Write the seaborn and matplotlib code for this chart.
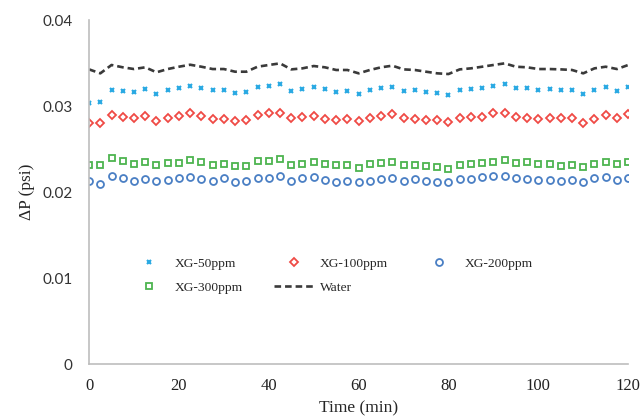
import matplotlib
matplotlib.use("Agg")
import matplotlib.pyplot as plt
import seaborn as sns

# 時間 (min)
time_min = [0, 2.5, 5, 7.5, 10, 12.5, 15, 17.5, 20, 22.5, 25, 27.5, 30, 32.5, 35, 37.5,
            40, 42.5, 45, 47.5, 50, 52.5, 55, 57.5, 60, 62.5, 65, 67.5, 70, 72.5, 75, 77.5,
            80, 82.5, 85, 87.5, 90, 92.5, 95, 97.5, 100, 102.5, 105, 107.5, 110, 112.5,
            115, 117.5, 120]

# ΔP (psi)
xg50 = [0.03039, 0.03047, 0.03186, 0.03174, 0.03159, 0.03198, 0.03136, 0.03182, 0.03205,
        0.03236, 0.03205, 0.03182, 0.03186, 0.03150, 0.03163, 0.03217, 0.03233, 0.03256,
        0.03174, 0.03194, 0.03221, 0.03198, 0.03163, 0.03171, 0.03140, 0.03182, 0.03213,
        0.03225, 0.03174, 0.03182, 0.03163, 0.03147, 0.03128, 0.03186, 0.03198, 0.03213,
        0.03233, 0.03252, 0.03209, 0.03209, 0.03186, 0.03194, 0.03186, 0.03186, 0.03140,
        0.03186, 0.03217, 0.03178, 0.03225]
xg100 = [0.02806, 0.02798, 0.02891, 0.02876, 0.02857, 0.02880, 0.02826, 0.02864, 0.02888,
         0.02919, 0.02880, 0.02849, 0.02849, 0.02830, 0.02841, 0.02899, 0.02915, 0.02919,
         0.02857, 0.02868, 0.02884, 0.02853, 0.02837, 0.02853, 0.02826, 0.02864, 0.02884,
         0.02903, 0.02864, 0.02849, 0.02837, 0.02837, 0.02818, 0.02857, 0.02876, 0.02876,
         0.02922, 0.02915, 0.02876, 0.02857, 0.02853, 0.02857, 0.02857, 0.02857, 0.02806,
         0.02853, 0.02895, 0.02864, 0.02903]
xg200 = [0.02128, 0.02097, 0.02190, 0.02167, 0.02128, 0.02155, 0.02124, 0.02140, 0.02159,
         0.02178, 0.02147, 0.02132, 0.02159, 0.02116, 0.02124, 0.02163, 0.02167, 0.02182,
         0.02124, 0.02159, 0.02174, 0.02143, 0.02116, 0.02128, 0.02113, 0.02132, 0.02155,
         0.02159, 0.02132, 0.02151, 0.02132, 0.02113, 0.02113, 0.02155, 0.02155, 0.02178,
         0.02186, 0.02186, 0.02167, 0.02151, 0.02140, 0.02140, 0.02132, 0.02140, 0.02116,
         0.02159, 0.02171, 0.02140, 0.02163]
xg300 = [0.02310, 0.02318, 0.02391, 0.02364, 0.02322, 0.02349, 0.02314, 0.02333, 0.02337,
         0.02372, 0.02345, 0.02318, 0.02322, 0.02298, 0.02302, 0.02360, 0.02357, 0.02380,
         0.02310, 0.02326, 0.02349, 0.02326, 0.02310, 0.02310, 0.02275, 0.02322, 0.02333,
         0.02353, 0.02314, 0.02314, 0.02298, 0.02295, 0.02271, 0.02314, 0.02322, 0.02333,
         0.02349, 0.02368, 0.02333, 0.02349, 0.02326, 0.02326, 0.02306, 0.02314, 0.02287,
         0.02329, 0.02345, 0.02326, 0.02353]
water = [0.03426, 0.03380, 0.03477, 0.03450, 0.03430, 0.03450, 0.03392, 0.03430, 0.03457,
         0.03480, 0.03457, 0.03430, 0.03430, 0.03399, 0.03399, 0.03457, 0.03477, 0.03496,
         0.03426, 0.03438, 0.03465, 0.03450, 0.03419, 0.03419, 0.03380, 0.03419, 0.03450,
         0.03469, 0.03426, 0.03419, 0.03399, 0.03380, 0.03372, 0.03426, 0.03438, 0.03457,
         0.03477, 0.03496, 0.03457, 0.03450, 0.03430, 0.03430, 0.03426, 0.03419, 0.03380,
         0.03438, 0.03457, 0.03430, 0.03477]

sns.set_style("white")
plt.rcParams['font.family'] = ['Liberation Serif', 'DejaVu Serif']

fig = plt.figure(figsize=(6.41, 4.17), dpi=100)
ax = fig.add_axes([0.139, 0.127, 0.841, 0.825])

marker_kw = dict(linestyle='', markerfacecolor='none', markeredgewidth=1.3)
sns.lineplot(x=time_min, y=xg50, ax=ax, marker='x', markersize=3.5, color='#2aa9e3',
             markeredgecolor='#2aa9e3', linestyle='', markeredgewidth=1.5, label='XG-50ppm')
sns.lineplot(x=time_min, y=xg100, ax=ax, marker='D', markersize=4.3, color='#ef4a45',
             markeredgecolor='#ef4a45', label='XG-100ppm', **marker_kw)
sns.lineplot(x=time_min, y=xg200, ax=ax, marker='o', markersize=5, color='#4a7fc4',
             markeredgecolor='#4a7fc4', label='XG-200ppm', **marker_kw)
sns.lineplot(x=time_min, y=xg300, ax=ax, marker='s', markersize=5, color='#4db44f',
             markeredgecolor='#4db44f', label='XG-300ppm', **marker_kw)
sns.lineplot(x=time_min, y=water, ax=ax, color='#3a3a3a', linewidth=1.9,
             dashes=(2.5, 1.5), label='Water')

ax.set_xlim(0, 120)
ax.set_ylim(0, 0.04)
ax.set_xticks([0, 20, 40, 60, 80, 100, 120])
ax.set_yticks([0, 0.01, 0.02, 0.03, 0.04])
ax.set_yticklabels(['0', '0.01', '0.02', '0.03', '0.04'], family=['Lato', 'DejaVu Sans'],
                   fontsize=11, color='#333333')
ax.tick_params(axis='x', labelsize=12, pad=6)
ax.tick_params(axis='y', pad=8)
ax.tick_params(axis='both', direction='out', length=4, width=0.8, color='#bdbdbd')
ax.tick_params(axis='x', labelcolor='#222222')
ax.tick_params(axis='y', labelcolor='#333333')
ax.set_xlabel('Time (min)', fontsize=12.5, labelpad=5)
ax.set_ylabel('ΔP (psi)', fontsize=12.5, labelpad=5)

sns.despine(ax=ax)
for s in ['left', 'bottom']:
    ax.spines[s].set_color('#bdbdbd')
    ax.spines[s].set_linewidth(1.2)

# 圖例順序 (3 欄, 依欄填入)
h, l = ax.get_legend_handles_labels()
idx = {lab: i for i, lab in enumerate(l)}
order = ['XG-50ppm', 'XG-300ppm', 'XG-100ppm', 'Water', 'XG-200ppm']
ax.legend([h[idx[o]] for o in order], order, ncol=3, frameon=False, fontsize=9.7,
          loc='upper left', bbox_to_anchor=(0.052, 0.345), handlelength=3.0,
          handletextpad=0.4, columnspacing=2.3, labelspacing=0.85)

plt.savefig('out.png', dpi=100)
